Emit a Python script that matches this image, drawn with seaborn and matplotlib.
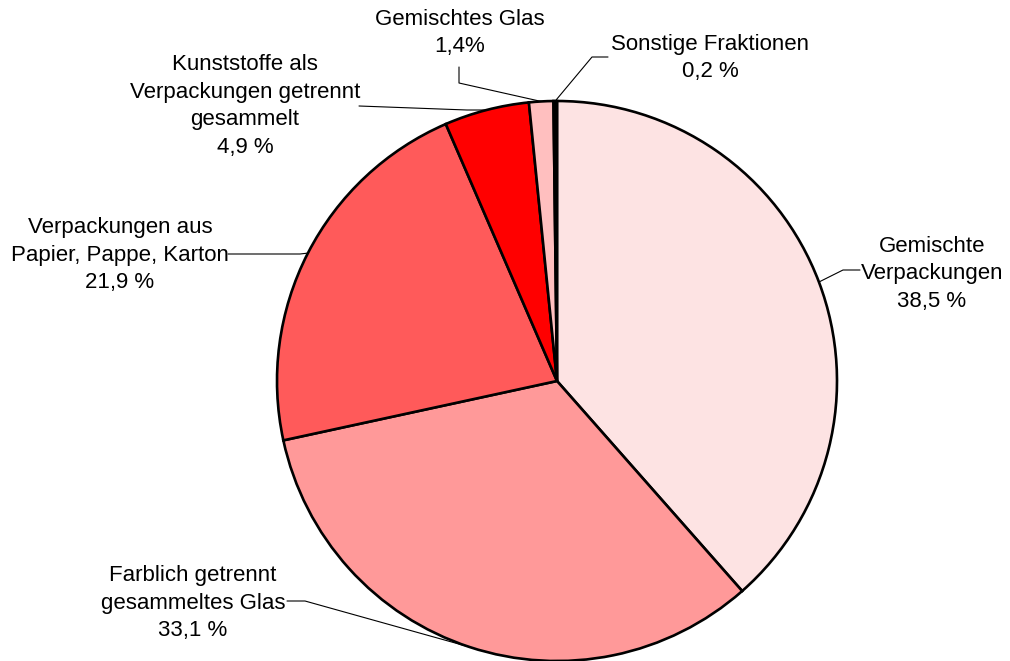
import numpy as np
import matplotlib.pyplot as plt
import seaborn as sns

sns.set_theme(style="white")
plt.rcParams['font.family'] = ['Liberation Sans', 'DejaVu Sans']

# data
labels = ["Gemischte\nVerpackungen\n38,5 %",
          "Farblich getrennt\ngesammeltes Glas\n33,1 %",
          "Verpackungen aus\nPapier, Pappe, Karton\n21,9 %",
          "Kunststoffe als\nVerpackungen getrennt\ngesammelt\n4,9 %",
          "Gemischtes Glas\n1,4%",
          "Sonstige Fraktionen\n0,2 %"]
shares = [38.5, 33.1, 21.9, 4.9, 1.4, 0.2]
colors = ["#FDE3E3", "#FF9999", "#FF5A5A", "#FF0000", "#FFBFBF", "#000000"]

# label layout in pixels (text centre, elbow point, line end at text)
text_pos = [(932, 274), (193, 603), (120, 255), (245, 106), (460, 33), (710, 58)]
elbow_pos = [(843, 270), (305, 601), (300, 254), (467, 110), (459, 83), (592, 57)]
line_end = [(860, 270), (287, 601), (228, 254), (359, 106), (459, 67), (608, 57)]

W, H = 1010, 661
cx, cy, r = 557, 381, 280

fig = plt.figure(figsize=(W / 100, H / 100), dpi=100)
ax = fig.add_axes([0, 0, 1, 1])

wedges, _ = ax.pie(shares, colors=colors, startangle=90, counterclock=False,
                   center=(cx, H - cy), radius=r,
                   wedgeprops=dict(edgecolor="black", linewidth=1.9))
ax.set_xlim(0, W)
ax.set_ylim(0, H)
ax.set_aspect("equal")
ax.axis("off")

for w, lab, tp, ep, le in zip(wedges, labels, text_pos, elbow_pos, line_end):
    ang = np.deg2rad((w.theta1 + w.theta2) / 2)
    px = cx + r * np.cos(ang)
    py = (H - cy) + r * np.sin(ang)
    ax.plot([px, ep[0], le[0]], [py, H - ep[1], H - le[1]],
            color="black", linewidth=0.8, clip_on=False)
    ax.text(tp[0], H - tp[1], lab, ha="center", va="center",
            fontsize=16, linespacing=1.42, color="black")

fig.savefig("out.png", dpi=100)
